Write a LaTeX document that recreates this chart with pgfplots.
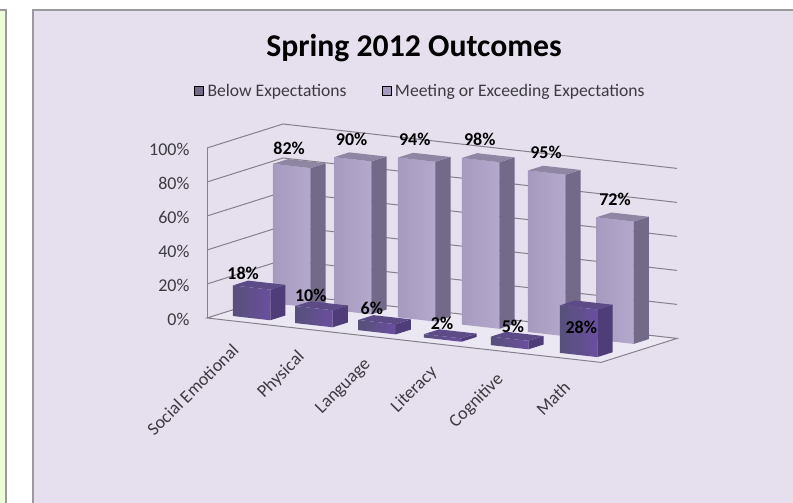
\documentclass[border=0pt]{standalone}
\usepackage{pgfplots}
\pgfplotsset{compat=1.18}
\usepackage{fontspec}
\setmainfont{Carlito}
\definecolor{panel}{HTML}{E6E0EE}
\definecolor{floorc}{HTML}{ECE8F3}
\definecolor{gridc}{HTML}{86808C}
\definecolor{framec}{HTML}{9A9A9E}
\definecolor{ticktext}{HTML}{3C3A40}
\definecolor{lightfrontA}{HTML}{A69BBE}
\definecolor{lightfrontB}{HTML}{B4A8CC}
\definecolor{lightside}{HTML}{736A8A}
\definecolor{lighttop}{HTML}{8F86A4}
\definecolor{darkfrontA}{HTML}{57507A}
\definecolor{darkfrontB}{HTML}{6A4F9E}
\definecolor{darkside}{HTML}{4E3D78}
\definecolor{darktop}{HTML}{5D4B88}
\pgfkeys{/pgf/number format/assume math mode=true}
% One box: #1 left edge along the category axis, #2 value, #3/#4 depth range, #5 prefix of the colour names
\newcommand{\bbox}[5]{%
  \pgfmathsetmacro{\ca}{#1}%
  \pgfmathsetmacro{\cb}{#1+0.57}%
  \addplot3[draw=none,forget plot,left color=#5frontA,right color=#5frontB]
    coordinates {(\ca,#3,0)(\cb,#3,0)(\cb,#3,#2)(\ca,#3,#2)} --cycle;
  \addplot3[draw=none,forget plot,fill=#5side]
    coordinates {(\cb,#3,0)(\cb,#4,0)(\cb,#4,#2)(\cb,#3,#2)} --cycle;
  \addplot3[draw=none,forget plot,fill=#5top]
    coordinates {(\ca,#3,#2)(\cb,#3,#2)(\cb,#4,#2)(\ca,#4,#2)} --cycle;
}
\begin{document}
\begin{tikzpicture}[x=1pt,y=1pt]
\path[use as bounding box] (0,0) rectangle (793,503);
\fill[white] (0,0) rectangle (793,503);
% neighbouring panel and the chart's panel
\fill[green!8!white!92!yellow] (0,0) rectangle (6,493);
\draw[framec,line width=1.2pt] (0,493) -- (6,493) -- (6,0);
\fill[panel] (33,0) rectangle (793,493);
\draw[framec,line width=1.4pt] (33,0) -- (33,493) -- (793,493);
\node[font=\bfseries\fontsize{31.7}{35}\selectfont,text=black] at (414,455) {Spring 2012 Outcomes};
\begin{axis}[
  at={(207pt,185pt)},anchor=origin,
  x={(65.67pt,-7.4pt)},y={(76pt,24pt)},z={(0pt,1.7pt)},
  xmin=0,xmax=6,ymin=0,ymax=1,zmin=0,zmax=100,
  clip=false,
  axis line style={draw=none},
  major tick length=0pt,
  xtick={0.5,1.51,2.52,3.53,4.54,5.55},
  xticklabels={Social Emotional,Physical,Language,Literacy,Cognitive,Math},
  ytick=\empty,
  ztick={0,20,40,60,80,100},
  zticklabels={0\%,20\%,40\%,60\%,80\%,100\%},
  ztick pos=left,
  tick label style={font=\fontsize{18}{20}\selectfont,text=ticktext},
  xticklabel style={rotate=45,anchor=east,yshift=-14.8pt,xshift=-17.6pt},
  zticklabel style={anchor=east,xshift=-14pt,yshift=-1pt},
  legend columns=2,
  legend style={draw=none,fill=none,at={(axis cs:0,0,100)},anchor=west,xshift=-16pt,yshift=57pt,
    font=\fontsize{17.6}{19}\selectfont,text=ticktext,
    /tikz/every odd column/.append style={column sep=2pt},
    /tikz/every even column/.append style={column sep=33pt}},
  legend image code/.code={\fill[#1] (0pt,-4.5pt) rectangle (9pt,4.5pt);},
]
\addlegendimage{fill=lightside}\addlegendentry{Below Expectations}
\addlegendimage{fill=lightfrontA}\addlegendentry{Meeting or Exceeding Expectations}
% floor
\addplot3[fill=floorc,draw=gridc,line width=1pt,forget plot]
  coordinates {(0,0,0)(6,0,0)(6,1,0)(0,1,0)} --cycle;
% left wall edge and gridlines on the two walls
\addplot3[gridc,line width=1pt,forget plot] coordinates {(0,0,0)(0,0,100)};
\addplot3[gridc,line width=1pt,forget plot] coordinates {(0,0,20)(0,1,20)(6,1,20)};
\addplot3[gridc,line width=1pt,forget plot] coordinates {(0,0,40)(0,1,40)(6,1,40)};
\addplot3[gridc,line width=1pt,forget plot] coordinates {(0,0,60)(0,1,60)(6,1,60)};
\addplot3[gridc,line width=1pt,forget plot] coordinates {(0,0,80)(0,1,80)(6,1,80)};
\addplot3[gridc,line width=1pt,forget plot] coordinates {(0,0,100)(0,1,100)(6,1,100)};
% Meeting or Exceeding Expectations, rear row
\bbox{0.217}{82}{0.68}{0.88}{light}
\bbox{1.147}{90}{0.68}{0.88}{light}
\bbox{2.12}{94}{0.68}{0.88}{light}
\bbox{3.095}{98}{0.68}{0.88}{light}
\bbox{4.10}{95}{0.68}{0.88}{light}
\bbox{5.14}{72}{0.68}{0.88}{light}
% Below Expectations, front row
\bbox{0.22}{18}{0.15}{0.35}{dark}
\bbox{1.17}{10}{0.15}{0.35}{dark}
\bbox{2.13}{6}{0.15}{0.35}{dark}
\bbox{3.13}{2}{0.15}{0.35}{dark}
\bbox{4.15}{5}{0.15}{0.35}{dark}
\bbox{5.2}{28}{0.15}{0.35}{dark}
% value labels
\pgfplotsset{value label/.style={draw=none,mark=none,forget plot,point meta=z,
  nodes near coords={\pgfmathprintnumber[assume math mode=true]{\pgfplotspointmeta}\%},
  every node near coord/.append style={font=\bfseries\fontsize{18}{20}\selectfont,text=black,anchor=center,yshift=#1}}}
\addplot3[value label=17pt]
  coordinates {(0.44,0.70,82)(1.30,0.78,90)(2.26,0.78,94)(3.25,0.78,98)(4.26,0.78,95)(5.31,0.78,72)};
\addplot3[value label=9.5pt]
  coordinates {(0.26,0.25,18)(1.29,0.25,10)(2.22,0.25,6)(3.29,0.25,2)(4.37,0.25,5)};
\addplot3[value label=-23pt]
  coordinates {(5.41,0.25,28)};
\end{axis}
\end{tikzpicture}
\end{document}
